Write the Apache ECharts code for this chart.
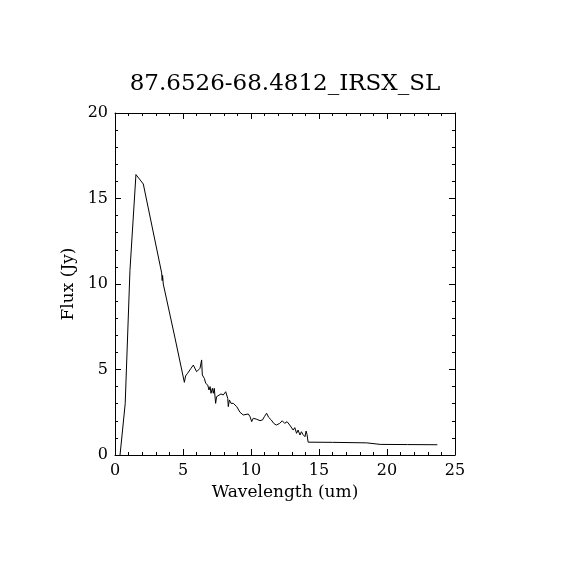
<!DOCTYPE html>
<html>
<head>
<meta charset="utf-8">
<script src="https://cdn.jsdelivr.net/npm/echarts@6/dist/echarts.min.js"></script>
<style>html,body{margin:0;padding:0;background:#fff}#c{width:570px;height:570px}</style>
</head>
<body>
<div id="c"></div>
<script>
var titleText = "87.6526-68.4812_IRSX_SL";
var xName = "Wavelength (um)";
var yName = "Flux (Jy)";
var xTicks = [0, 5, 10, 15, 20, 25];
var yTicks = [0, 5, 10, 15, 20];

var wavelength = [
  0.37, 0.75, 1.1, 1.54, 2.08, 3.43, 3.47, 3.50, 3.55, 4.41, 5.10,
  5.19, 5.34, 5.44, 5.59, 5.76, 5.88, 6.00, 6.13, 6.25, 6.37, 6.42, 6.57, 6.67,
  6.82, 6.91, 6.99, 7.06, 7.16, 7.23, 7.30, 7.40, 7.47, 7.60, 7.79, 7.96, 8.14,
  8.29, 8.33, 8.41, 8.53, 8.70, 8.95, 9.19, 9.43, 9.56, 9.80, 9.93, 10.05, 10.17,
  10.42, 10.66, 10.85, 10.98, 11.15, 11.30, 11.37, 11.49, 11.67, 11.86, 12.11,
  12.30, 12.48, 12.65, 12.85, 12.97, 13.10, 13.22, 13.35, 13.46, 13.60, 13.71,
  13.82, 13.97, 14.05, 14.12, 14.20, 16.0, 18.5, 19.5, 21.5, 23.7
];
var flux = [
  0.0, 3.0, 10.8, 16.4, 15.85, 10.65, 10.2, 10.5, 10.0, 6.85, 4.25,
  4.62, 4.78, 4.74, 5.07, 5.26, 5.16, 4.87, 4.78, 5.07, 5.56, 4.68, 4.48, 4.19,
  4.09, 3.80, 4.00, 3.61, 3.90, 3.61, 3.90, 3.02, 3.41, 3.45, 3.57, 3.51, 3.70,
  3.31, 2.83, 3.22, 3.02, 3.02, 2.83, 2.50, 2.34, 2.34, 2.40, 2.24, 1.95, 2.15,
  2.09, 2.01, 2.05, 2.24, 2.44, 2.20, 2.24, 2.05, 1.85, 1.75, 1.85,
  2.00, 1.85, 1.95, 1.75, 1.75, 1.46, 1.60, 1.27, 1.46, 1.17, 1.36,
  1.20, 1.07, 1.40, 1.20, 0.75, 0.74, 0.71, 0.62, 0.61, 0.60
];

var points = wavelength.map(function (w, i) { return [w, flux[i]]; });

var font = "DejaVu Serif";
var chart = echarts.init(document.getElementById('c'), null, {renderer: 'canvas'});

function baseAxis(isX, pos, showLabel, ticks) {
  return {
    type: 'value',
    position: pos,
    min: ticks[0],
    max: ticks[ticks.length - 1],
    interval: ticks[1] - ticks[0],
    axisLine: {show: true, onZero: false, lineStyle: {color: '#000', width: 1}},
    axisTick: {show: true, inside: true, length: 6, lineStyle: {color: '#000', width: 1}},
    minorTick: {show: true, splitNumber: 5, length: 3, lineStyle: {color: '#000', width: 1}},
    splitLine: {show: false},
    minorSplitLine: {show: false},
    axisLabel: {
      show: showLabel,
      color: '#000',
      fontFamily: font,
      fontSize: 16,
      margin: isX ? 8 : 7
    }
  };
}

var x0 = baseAxis(true, 'bottom', true, xTicks);
x0.name = xName;
x0.nameLocation = 'middle';
x0.nameGap = 28;
x0.nameTextStyle = {color: '#000', fontFamily: font, fontSize: 17};
var x1 = baseAxis(true, 'top', false, xTicks);

var y0 = baseAxis(false, 'left', true, yTicks);
y0.name = yName;
y0.nameLocation = 'middle';
y0.nameGap = 38;
y0.nameTextStyle = {color: '#000', fontFamily: font, fontSize: 17};
var y1 = baseAxis(false, 'right', false, yTicks);

chart.setOption({
  backgroundColor: '#fff',
  animation: false,
  title: {
    text: titleText,
    left: 'center',
    top: 68,
    textStyle: {color: '#000', fontFamily: font, fontSize: 23, fontWeight: 'normal'}
  },
  grid: {left: 115, right: 115, top: 113, bottom: 115, containLabel: false},
  xAxis: [x0, x1],
  yAxis: [y0, y1],
  series: [{
    type: 'line',
    xAxisIndex: 0,
    yAxisIndex: 0,
    data: points,
    symbol: 'none',
    lineStyle: {color: '#000', width: 1},
    silent: true
  }]
});
</script>
</body>
</html>
